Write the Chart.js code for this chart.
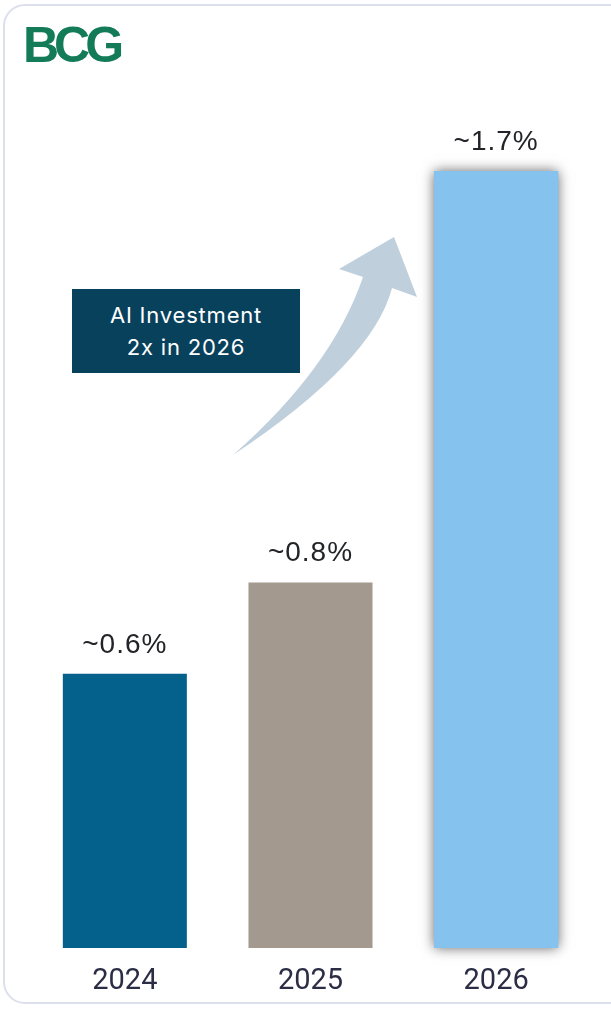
<!DOCTYPE html>
<html>
<head>
<meta charset="utf-8">
<script src="https://cdn.jsdelivr.net/npm/chart.js@4"></script>
<style>
  html, body { margin: 0; padding: 0; background: #fff; }
  body { width: 611px; height: 1009px; position: relative; overflow: hidden; font-family: Inter, "Open Sans", sans-serif; }
  .card { position: absolute; left: 3px; top: 4px; width: 640px; height: 1000px; border: 2px solid #dcdfec; border-radius: 22px; box-sizing: border-box; }
  .logo { position: absolute; left: 23px; top: 16px; font: 700 50px "Liberation Sans", Arial, sans-serif; color: #147b58; letter-spacing: -5px; }
  .callout { position: absolute; left: 72px; top: 289px; width: 228px; height: 84px; background: #08415c; color: #fff;
    font: 22px Inter, "Open Sans", sans-serif; letter-spacing: 0.8px; text-align: center; line-height: 32px; padding-top: 10px; box-sizing: border-box; }
  #chart { position: absolute; left: 0; top: 0; }
</style>
</head>
<body>
<div class="card"></div>
<canvas id="chart" width="611" height="1009"></canvas>
<div class="logo">BCG</div>
<div class="callout">AI Investment<br>2x in 2026</div>
<script>
const years = ['2024', '2025', '2026']
const shares = [0.6, 0.8, 1.7]
const valueLabels = ['~0.6%', '~0.8%', '~1.7%']
const barColors = ['#04618b', '#a4998f', '#85c2ee']

// soft shadow behind the 2026 bar
const barShadow = {
  id: 'barShadow',
  beforeDatasetsDraw(chart) {
    const bar = chart.getDatasetMeta(0).data[2]
    const ctx = chart.ctx
    ctx.save()
    ctx.shadowColor = 'rgba(0,0,0,0.6)'
    ctx.shadowBlur = 12
    ctx.fillStyle = barColors[2]
    ctx.fillRect(bar.x - bar.width / 2, bar.y, bar.width, bar.base - bar.y)
    ctx.restore()
  }
}

// curved arrow pointing at the last bar
const growthArrow = {
  id: 'growthArrow',
  beforeDatasetsDraw(chart) {
    const ctx = chart.ctx
    ctx.save()
    ctx.fillStyle = '#bfd0dc'
    ctx.beginPath()
    ctx.moveTo(233, 455)
    ctx.quadraticCurveTo(332, 368, 363, 277)
    ctx.lineTo(339, 269)
    ctx.lineTo(394, 237)
    ctx.lineTo(417, 297)
    ctx.lineTo(392, 288)
    ctx.quadraticCurveTo(373, 362, 233, 455)
    ctx.closePath()
    ctx.fill()
    ctx.restore()
  }
}

const valueTags = {
  id: 'valueTags',
  afterDatasetsDraw(chart) {
    const ctx = chart.ctx
    ctx.save()
    ctx.font = '28px "Liberation Sans", Arial, sans-serif'
    ctx.letterSpacing = '1px'
    ctx.fillStyle = '#222428'
    ctx.textAlign = 'center'
    ctx.textBaseline = 'middle'
    chart.getDatasetMeta(0).data.forEach((bar, i) => {
      ctx.fillText(valueLabels[i], bar.x, bar.y - 29)
    })
    ctx.restore()
  }
}

new Chart(document.getElementById('chart'), {
  type: 'bar',
  data: {
    labels: years,
    datasets: [{ data: shares, backgroundColor: barColors, borderWidth: 0, barPercentage: 0.668, categoryPercentage: 1 }]
  },
  options: {
    responsive: false,
    animation: false,
    layout: { padding: { left: 32, right: 22, top: 34, bottom: -6 } },
    plugins: { legend: { display: false }, tooltip: { enabled: false } },
    scales: {
      x: {
        grid: { display: false, drawTicks: false },
        border: { display: false },
        ticks: { color: '#2b2d45', padding: 19, font: { size: 29, family: 'Roboto, sans-serif', lineHeight: 1 } }
      },
      y: { display: false, min: 0, max: 2 }
    }
  },
  plugins: [barShadow, growthArrow, valueTags]
})
</script>
</body>
</html>
